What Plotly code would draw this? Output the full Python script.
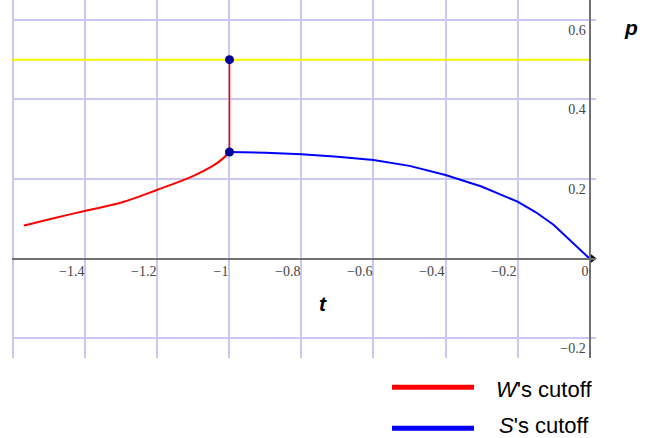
import plotly.graph_objects as go

# ---- data ----
t_w = [-1.571, -1.5, -1.4, -1.3, -1.2, -1.1, -1.05, -1.02, -1.0]
p_w = [0.083, 0.099, 0.120, 0.141, 0.173, 0.208, 0.231, 0.250, 0.268]

t_s = [-1.0, -0.9, -0.8, -0.7, -0.6, -0.5, -0.4, -0.3, -0.2, -0.15, -0.1, -0.05, 0.0]
p_s = [0.268, 0.266, 0.262, 0.256, 0.248, 0.233, 0.210, 0.181, 0.143, 0.117, 0.085, 0.043, 0.0]

jump_t = [-1.0, -1.0]
jump_p = [0.268, 0.5]

yellow_t = [-1.604, 0.0]
yellow_p = [0.5, 0.5]

x_ticks = [-1.6, -1.4, -1.2, -1.0, -0.8, -0.6, -0.4, -0.2, 0.0]
x_labels = ["", "\u22121.4", "\u22121.2", "\u22121", "\u22120.8", "\u22120.6", "\u22120.4", "\u22120.2", "0"]
y_ticks = [-0.2, 0.2, 0.4, 0.6]
y_labels = ["\u22120.2", "0.2", "0.4", "0.6"]

x_range = [-1.604, 0.018]
y_range = [-0.25, 0.65]

grid_col = "rgb(200,200,242)"
axis_col = "#707070"

fig = go.Figure()
fig.add_trace(go.Scatter(x=yellow_t, y=yellow_p, mode="lines",
                         line=dict(color="#f5f500", width=2), hoverinfo="skip", showlegend=False))
fig.add_trace(go.Scatter(x=t_w, y=p_w, mode="lines", line_shape="spline",
                         line=dict(color="#ff0000", width=2), hoverinfo="skip", showlegend=False))
fig.add_trace(go.Scatter(x=jump_t, y=jump_p, mode="lines",
                         line=dict(color="#ff0000", width=1.6), hoverinfo="skip", showlegend=False))
fig.add_trace(go.Scatter(x=t_s, y=p_s, mode="lines",
                         line=dict(color="#0000ff", width=2), hoverinfo="skip", showlegend=False))
fig.add_trace(go.Scatter(x=jump_t, y=jump_p, mode="markers",
                         marker=dict(color="#000099", size=9), hoverinfo="skip",
                         showlegend=False, cliponaxis=False))
# arrow head on the t axis
fig.add_trace(go.Scatter(x=[0.006], y=[0], mode="markers",
                         marker=dict(symbol="triangle-right", color="#111111", size=10),
                         hoverinfo="skip", showlegend=False, cliponaxis=False))

y_pos = (0 - y_range[0]) / (y_range[1] - y_range[0])
x_pos = (0 - x_range[0]) / (x_range[1] - x_range[0])

fig.update_layout(
    width=647, height=438,
    margin=dict(l=12, r=51, t=0, b=80),
    paper_bgcolor="white", plot_bgcolor="white",
    showlegend=False,
    xaxis=dict(range=x_range, tickvals=x_ticks, ticktext=x_labels,
               showgrid=True, gridcolor=grid_col, gridwidth=1.6,
               zeroline=False, showline=True, linecolor=axis_col, linewidth=2,
               anchor="free", position=y_pos, ticks="",
               ticklabelposition="outside left",
               tickfont=dict(family="Liberation Serif", size=14, color="#444444")),
    yaxis=dict(range=y_range, tickvals=y_ticks, ticktext=y_labels,
               showgrid=True, gridcolor=grid_col, gridwidth=1.6,
               zeroline=False, showline=True, linecolor=axis_col, linewidth=2,
               anchor="free", position=x_pos, ticks="",
               ticklabelposition="outside bottom",
               tickfont=dict(family="Liberation Serif", size=14, color="#444444")),
)

# axis titles
fig.add_annotation(x=-0.741, y=-0.114, xref="x", yref="y", text="<b><i>t</i></b>",
                   showarrow=False, font=dict(family="Liberation Sans", size=21, color="black"))
fig.add_annotation(x=1.0753, y=0.961, xref="paper", yref="paper", text="<b><i>p</i></b>",
                   showarrow=False, font=dict(family="Liberation Sans", size=21, color="black"))

# legend drawn below the plot
px0, pw = 12, 584
ph = 358
def xp(px):
    return (px - px0) / pw
def yp(py):
    return (ph - py) / ph

legend_items = [("<i>W</i>'s cutoff", "#ff0000", 387.3, 389.5),
                ("<i>S</i>'s cutoff", "#0000ff", 428.3, 425.5)]
for label, col, ly, ty in legend_items:
    fig.add_shape(type="line", xref="paper", yref="paper",
                  x0=xp(392), x1=xp(474), y0=yp(ly), y1=yp(ly),
                  line=dict(color=col, width=5))
    fig.add_annotation(x=xp(544), y=yp(ty), xref="paper", yref="paper", text=label,
                       showarrow=False, xanchor="center", yanchor="middle",
                       font=dict(family="Liberation Sans", size=22, color="black"))

fig.write_html("out.html")
